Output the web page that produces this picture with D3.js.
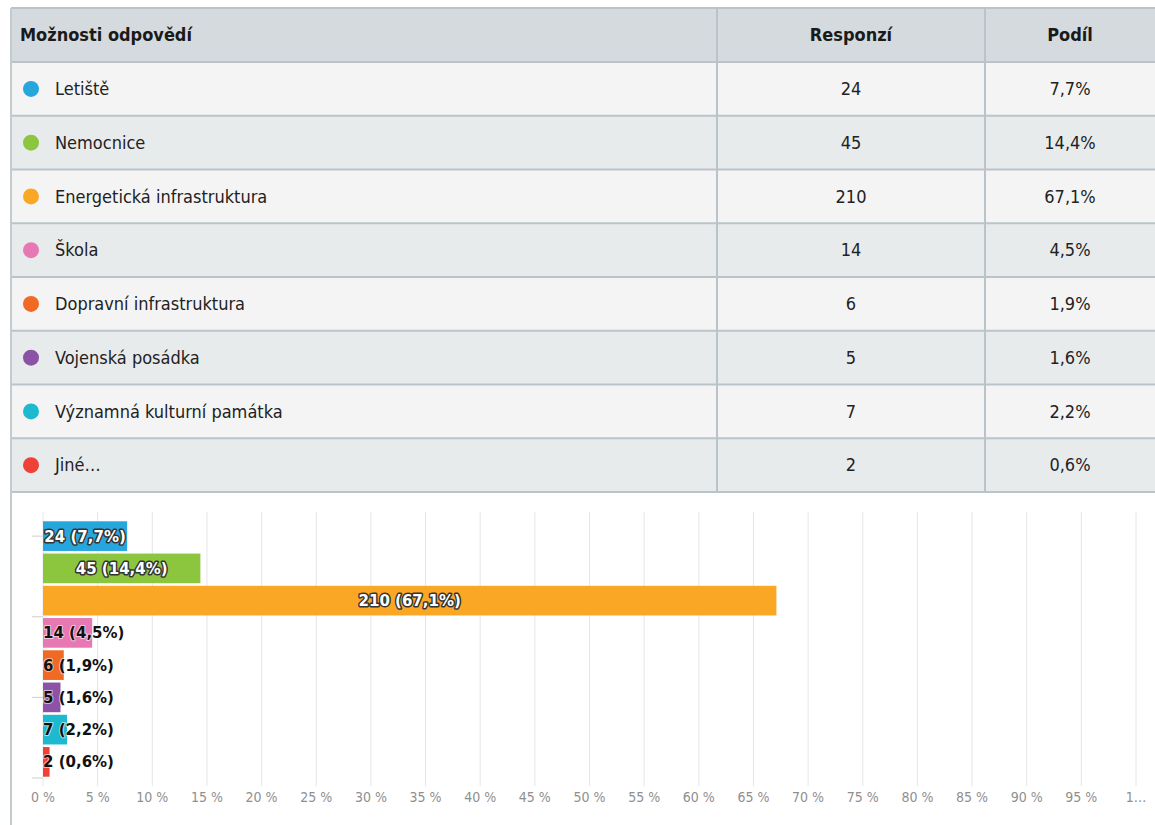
<!DOCTYPE html>
<html><head><meta charset="utf-8">
<script src="https://cdn.jsdelivr.net/npm/d3@7"></script>
<style>
html,body{margin:0;padding:0;background:#fff;overflow:hidden;}
svg{display:block;}
</style></head>
<body>
<svg id="c" width="1155" height="825"></svg>
<script>
const headers = ["Možnosti odpovědí", "Responzí", "Podíl"];
const categories = ["Letiště", "Nemocnice", "Energetická infrastruktura", "Škola", "Dopravní infrastruktura", "Vojenská posádka", "Významná kulturní památka", "Jiné…"];
const counts = [24, 45, 210, 14, 6, 5, 7, 2];
const shares = [7.7, 14.4, 67.1, 4.5, 1.9, 1.6, 2.2, 0.6];
const colors = ["#27a6de", "#8cc63f", "#fba726", "#e878b3", "#f06a25", "#8c52a6", "#1db9cf", "#ee4138"];
const xTicks = [0,5,10,15,20,25,30,35,40,45,50,55,60,65,70,75,80,85,90,95,100];
const yTickPositions = [0.5, 3, 5.5, 8];

const fmt = v => String(v).replace(".", ",");
const svg = d3.select("#c");
const tableFont = "'Liberation Sans Narrow','DejaVu Sans Condensed',sans-serif";

// ---- table ----
const tLeft = 11, tTop = 8, headH = 54, rowH = 53.75, tRight = 1170;
const colX = [tLeft, 717, 985, tRight];
const rowY = d3.scaleLinear().domain([0, categories.length]).range([tTop + headH, tTop + headH + rowH * categories.length]);

svg.append("rect").attr("x", tLeft).attr("y", tTop).attr("width", tRight - tLeft).attr("height", headH).attr("fill", "#d4dadd");
const rows = svg.append("g").selectAll("g").data(categories).join("g");
rows.append("rect").attr("x", tLeft).attr("y", (d,i) => rowY(i)).attr("width", tRight - tLeft).attr("height", rowH)
  .attr("fill", (d,i) => i % 2 === 0 ? "#f4f4f4" : "#e8ebec");
const lines = svg.append("g").attr("stroke", "#bac4c8").attr("stroke-width", 2);
d3.range(categories.length + 1).forEach(i => {
  lines.append("line").attr("x1", tLeft).attr("x2", tRight).attr("y1", rowY(i)).attr("y2", rowY(i));
});
lines.append("line").attr("x1", tLeft).attr("x2", tRight).attr("y1", tTop).attr("y2", tTop);
[colX[1], colX[2]].forEach(x => lines.append("line").attr("x1", x).attr("x2", x).attr("y1", tTop).attr("y2", rowY(categories.length)));
svg.append("line").attr("x1", tLeft).attr("x2", tLeft).attr("y1", tTop).attr("y2", 825).attr("stroke", "#c3cbcf").attr("stroke-width", 2);

svg.append("text").attr("x", 20).attr("y", tTop + headH/2).attr("dy", "0.35em").attr("font-family", tableFont)
  .attr("font-size", 18).attr("font-weight", "bold").attr("fill", "#1a1a1a").text(headers[0]);
svg.append("text").attr("x", (colX[1]+colX[2])/2).attr("y", tTop + headH/2).attr("dy", "0.35em").attr("text-anchor", "middle")
  .attr("font-family", tableFont).attr("font-size", 18).attr("font-weight", "bold").attr("fill", "#1a1a1a").text(headers[1]);
svg.append("text").attr("x", 1070).attr("y", tTop + headH/2).attr("dy", "0.35em").attr("text-anchor", "middle")
  .attr("font-family", tableFont).attr("font-size", 18).attr("font-weight", "bold").attr("fill", "#1a1a1a").text(headers[2]);

rows.append("circle").attr("cx", 31).attr("cy", (d,i) => rowY(i) + rowH/2).attr("r", 8).attr("fill", (d,i) => colors[i]);
rows.append("text").attr("x", 55).attr("y", (d,i) => rowY(i) + rowH/2).attr("dy", "0.35em")
  .attr("font-family", tableFont).attr("font-size", 18).attr("fill", "#222").text(d => d);
rows.append("text").attr("x", (colX[1]+colX[2])/2).attr("y", (d,i) => rowY(i) + rowH/2).attr("dy", "0.35em").attr("text-anchor", "middle")
  .attr("font-family", tableFont).attr("font-size", 18).attr("fill", "#222").text((d,i) => counts[i]);
rows.append("text").attr("x", 1070).attr("y", (d,i) => rowY(i) + rowH/2).attr("dy", "0.35em").attr("text-anchor", "middle")
  .attr("font-family", tableFont).attr("font-size", 18).attr("fill", "#222").text((d,i) => fmt(shares[i]) + "%");

// ---- bar chart ----
const x = d3.scaleLinear().domain([0, 100]).range([43, 1136]);
const y = d3.scaleBand().domain(categories).range([520, 778]).paddingInner(0.08).paddingOuter(0.04);
const yLin = d3.scaleLinear().domain([0, categories.length]).range([520, 778]);

svg.append("g").selectAll("line").data(xTicks).join("line")
  .attr("x1", d => x(d)).attr("x2", d => x(d)).attr("y1", 512).attr("y2", 786)
  .attr("stroke", "#e6e6e6").attr("stroke-width", 1);

svg.append("g").selectAll("line").data(yTickPositions).join("line")
  .attr("x1", 32).attr("x2", x(0)).attr("y1", d => yLin(d)).attr("y2", d => yLin(d))
  .attr("stroke", "#cfcfcf").attr("stroke-width", 1);

const axisFont = "'DejaVu Sans Condensed','DejaVu Sans',sans-serif";
svg.append("g").selectAll("text").data(xTicks).join("text")
  .attr("x", d => x(d)).attr("y", 802).attr("text-anchor", "middle")
  .attr("font-family", axisFont).attr("font-size", 14).attr("fill", "#8f8f8f")
  .text(d => d === 100 ? "1…" : d + " %");

const bars = svg.append("g").selectAll("g").data(categories).join("g");
bars.append("rect").attr("x", x(0)).attr("y", d => y(d)).attr("height", y.bandwidth())
  .attr("width", (d,i) => x(shares[i]) - x(0)).attr("fill", (d,i) => colors[i]);

const labelFont = "'DejaVu Sans',sans-serif";
bars.each(function(d, i) {
  const g = d3.select(this);
  const label = counts[i] + " (" + fmt(shares[i]) + "%)";
  const w = x(shares[i]) - x(0);
  const t = g.append("text").attr("y", y(d) + y.bandwidth()/2).attr("dy", "0.36em")
    .attr("font-family", labelFont).attr("font-size", 15).attr("font-weight", "bold").text(label);
  const tw = t.node().getComputedTextLength();
  if (tw <= w + 4) {
    t.attr("x", x(0) + w/2).attr("text-anchor", "middle").attr("fill", "#fff")
      .attr("stroke", "#333").attr("stroke-width", 3).attr("paint-order", "stroke").attr("stroke-linejoin", "round");
  } else {
    t.attr("x", x(0)).attr("fill", "#111")
      .attr("stroke", "#fff").attr("stroke-width", 2).attr("stroke-opacity", 0.6).attr("paint-order", "stroke").attr("stroke-linejoin", "round");
  }
});
</script>
</body></html>
